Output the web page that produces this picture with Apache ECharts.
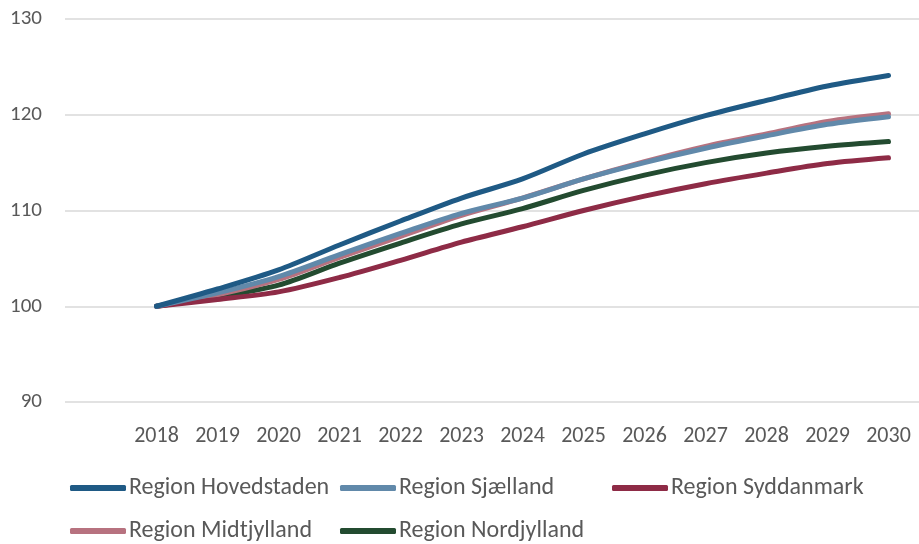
<!DOCTYPE html>
<html>
<head>
<meta charset="utf-8">
<script src="https://cdn.jsdelivr.net/npm/echarts@6/dist/echarts.min.js"></script>
<style>
  html, body { margin: 0; padding: 0; background: #fff; }
  #chart { width: 919px; height: 544px; }
</style>
</head>
<body>
<div id="chart"></div>
<script>
// årstal og indeks (2018 = 100)
var years = [2018, 2019, 2020, 2021, 2022, 2023, 2024, 2025, 2026, 2027, 2028, 2029, 2030];
var hovedstaden = [100, 101.8, 103.8, 106.4, 108.9, 111.3, 113.3, 115.9, 118.0, 119.9, 121.5, 123.0, 124.1];
var sjaelland   = [100, 101.4, 103.1, 105.4, 107.6, 109.7, 111.3, 113.3, 115.0, 116.5, 117.8, 119.0, 119.8];
var syddanmark  = [100, 100.7, 101.5, 103.0, 104.8, 106.7, 108.3, 110.0, 111.5, 112.8, 113.9, 114.9, 115.5];
var midtjylland = [100, 101.2, 102.8, 105.1, 107.3, 109.5, 111.3, 113.3, 115.1, 116.7, 118.0, 119.3, 120.1];
var nordjylland = [100, 101.0, 102.2, 104.5, 106.6, 108.6, 110.2, 112.1, 113.7, 115.0, 116.0, 116.7, 117.2];
var yTicks = [90, 100, 110, 120, 130];

var names = ['Region Hovedstaden', 'Region Sjælland', 'Region Syddanmark', 'Region Midtjylland', 'Region Nordjylland'];
var colors = ['#1F5A85', '#6189AA', '#8E2B46', '#B7727F', '#234B30'];
var values = [hovedstaden, sjaelland, syddanmark, midtjylland, nordjylland];

var font = "Carlito, Calibri, 'Liberation Sans Narrow', 'Open Sans', sans-serif";

function pairs(arr) {
    return years.map(function(y, i) { return [y, arr[i]]; });
}

// legend placering, to rækker
var legendPos = [[70, 476], [340, 476], [612, 476], [70, 519], [340, 519]];

var chart = echarts.init(document.getElementById('chart'));
var option = {
    animation: false,
    backgroundColor: '#fff',
    grid: { left: 65, right: 0, top: 19, bottom: 142 },
    legend: names.map(function(n, i) {
        return {
            data: [n],
            left: legendPos[i][0],
            top: legendPos[i][1],
            padding: 0,
            icon: 'roundRect',
            itemWidth: 56,
            itemHeight: 6,
            textStyle: { fontFamily: font, fontSize: 24, color: '#595959', padding: [0, 0, 0, -2] }
        };
    }),
    xAxis: {
        type: 'value',
        min: 2016.5,
        max: 2030.5,
        interval: 0.5,
        splitLine: { show: false },
        axisLine: { show: false },
        axisTick: { show: false },
        axisLabel: {
            margin: 23,
            fontFamily: font,
            fontSize: 22,
            color: '#595959',
            showMinLabel: true,
            showMaxLabel: false,
            formatter: function(v) {
                return (v % 1 === 0 && years.indexOf(v) >= 0) ? String(v) : '';
            }
        }
    },
    yAxis: {
        type: 'value',
        min: yTicks[0],
        max: yTicks[yTicks.length - 1],
        interval: 10,
        axisLine: { show: false },
        axisTick: { show: false },
        splitLine: { lineStyle: { color: '#D9D9D9', width: 1.5 } },
        axisLabel: { margin: 23, fontFamily: font, fontSize: 21, color: '#595959' }
    },
    series: names.map(function(n, i) {
        return {
            name: n,
            type: 'line',
            data: pairs(values[i]),
            smooth: 0.3,
            symbol: 'none',
            color: colors[i],
            lineStyle: { width: 5, color: colors[i], cap: 'round', join: 'round' },
            z: 10 - i
        };
    })
};
chart.setOption(option);
</script>
</body>
</html>
